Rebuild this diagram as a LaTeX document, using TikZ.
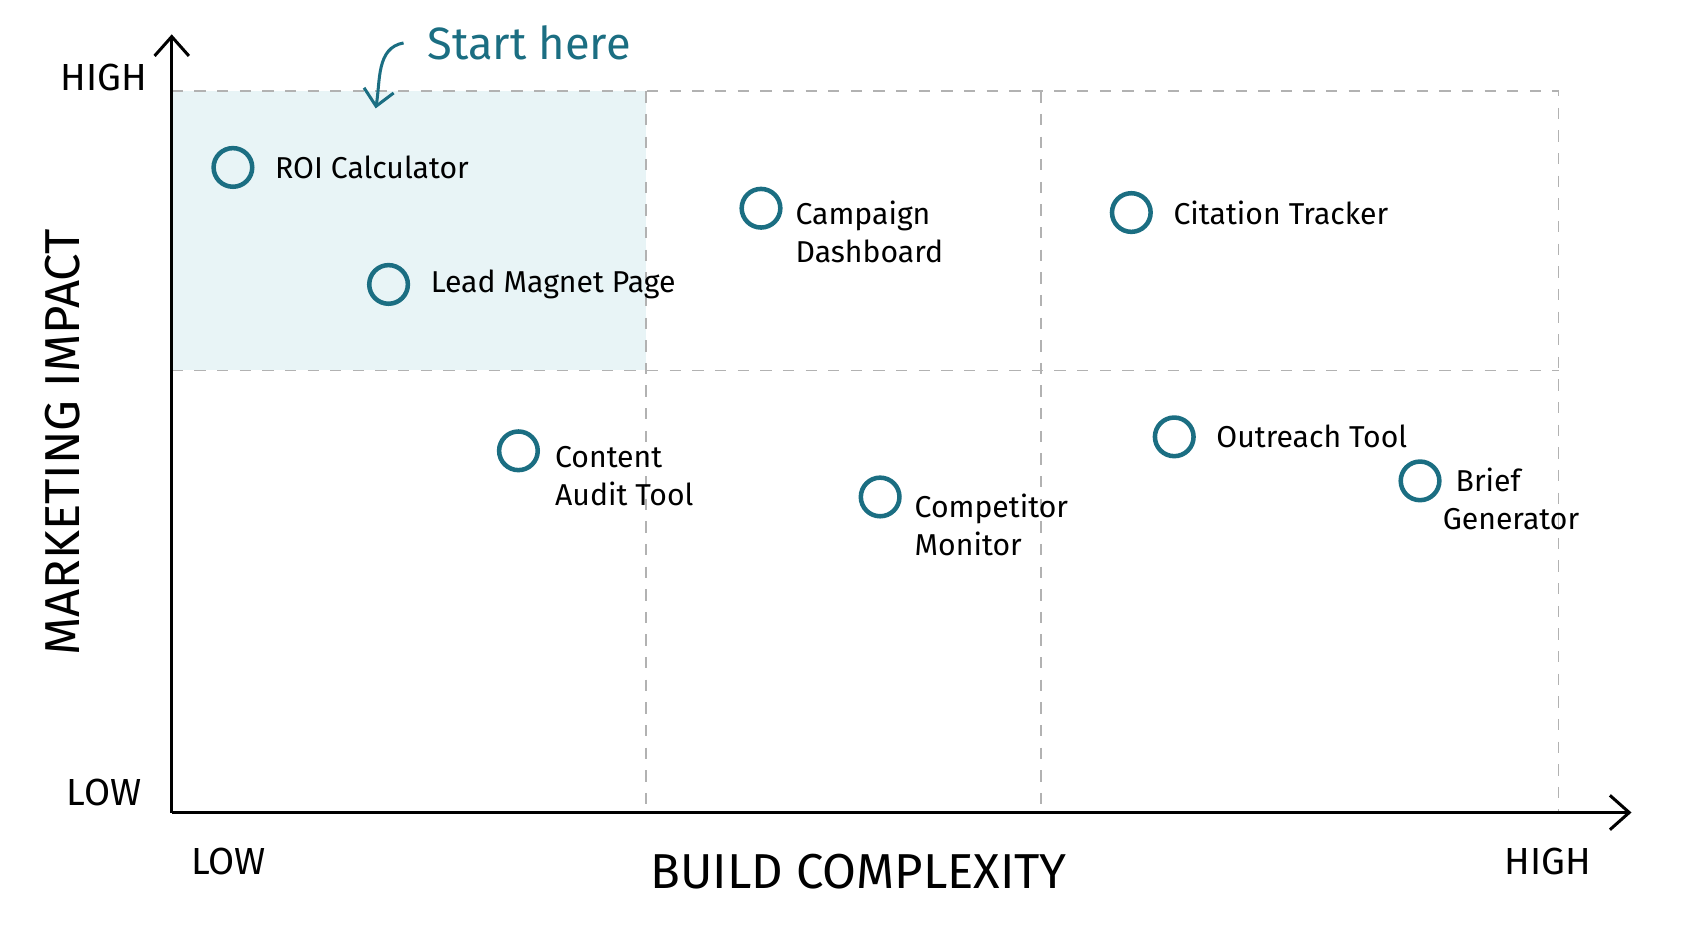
\documentclass[tikz,border=0pt]{standalone}
\usepackage{fontspec}
\setmainfont{Fira Sans}
\usetikzlibrary{positioning,arrows.meta}
\definecolor{teal}{HTML}{1B6E82}
\definecolor{zone}{HTML}{E8F4F6}
\tikzset{
  item/.style={circle,draw=teal,very thick,minimum size=0.36cm,inner sep=0pt},
  tag/.style={font=\fontsize{8}{10}\selectfont,align=left,inner sep=1pt},
  tick/.style={font=\fontsize{10}{12}\selectfont},
  grid/.style={dashed,gray!60,thin}
}
\begin{document}
\begin{tikzpicture}
    \useasboundingbox (0,0) rectangle (15.68,8.71);
    % quick-win zone
    \fill[zone] (1.6,5.26) rectangle (6.02,7.86);
    \begin{scope}[every path/.style={grid}]
        \draw (1.6,7.86) -- (14.52,7.86) -- (14.52,1.14);
        \draw (1.6,5.26) -- (14.52,5.26);
        \draw (6.02,7.86) -- (6.02,1.14);
        \draw (9.70,7.86) -- (9.70,1.14);
    \end{scope}
    % axes
    \coordinate (O) at (1.6,1.14);
    \coordinate (Ytop) at (1.6,8.39);
    \coordinate (Xend) at (15.2,1.14);
    \draw[thick,-{Straight Barb[length=1.8mm,width=3.2mm]}] (O) -- (Ytop);
    \draw[thick,-{Straight Barb[length=1.8mm,width=3.2mm]}] (O) -- (Xend);
    \node[tick] (yhi) at (0.97,7.99) {HIGH};
    \node[tick] (ylo) at (0.97,1.33) {LOW};
    \node[tick] (xlo) at (2.13,0.68) {LOW};
    \node[tick] (xhi) at (14.42,0.68) {HIGH};
    \node[font=\fontsize{13}{15}\selectfont] (xlab) at (8.0,0.59) {BUILD COMPLEXITY};
    \node[font=\fontsize{13}{15}\selectfont,rotate=90] (ylab) at (0.58,4.59) {MARKETING IMPACT};
    % tools
    \node[item] (roi) at (2.17,7.15) {};
    \node[tag,right=0.15 of roi] {ROI Calculator};
    \node[item] (lead) at (3.62,6.06) {};
    \node[tag,right=0.15 of lead] {Lead Magnet Page};
    \node[item] (camp) at (7.09,6.77) {};
    \node[tag,anchor=north west] at (7.37,6.88) {Campaign\\Dashboard};
    \node[item] (cite) at (10.54,6.73) {};
    \node[tag,right=0.15 of cite] {Citation Tracker};
    \node[item] (audit) at (4.83,4.51) {};
    \node[tag,anchor=north west] at (5.13,4.59) {Content\\Audit Tool};
    \node[item] (comp) at (8.20,4.08) {};
    \node[tag,anchor=north west] at (8.48,4.15) {Competitor\\Monitor};
    \node[item] (out) at (10.94,4.64) {};
    \node[tag,right=0.15 of out] {Outreach Tool};
    \node[item] (brief) at (13.23,4.23) {};
    \node[tag,anchor=north west] at (13.40,4.39) {\hspace*{0.12cm}Brief\\Generator};
    % start marker
    \node[text=teal,font=\fontsize{12}{14}\selectfont] (start) at (4.93,8.31) {Start here};
    \coordinate (tip) at (3.50,7.70);
    \draw[teal,thick,-{Straight Barb[length=1.5mm,width=2.8mm]}] ([xshift=-0.1cm]start.west) to[out=190,in=80] (tip);
\end{tikzpicture}
\end{document}
